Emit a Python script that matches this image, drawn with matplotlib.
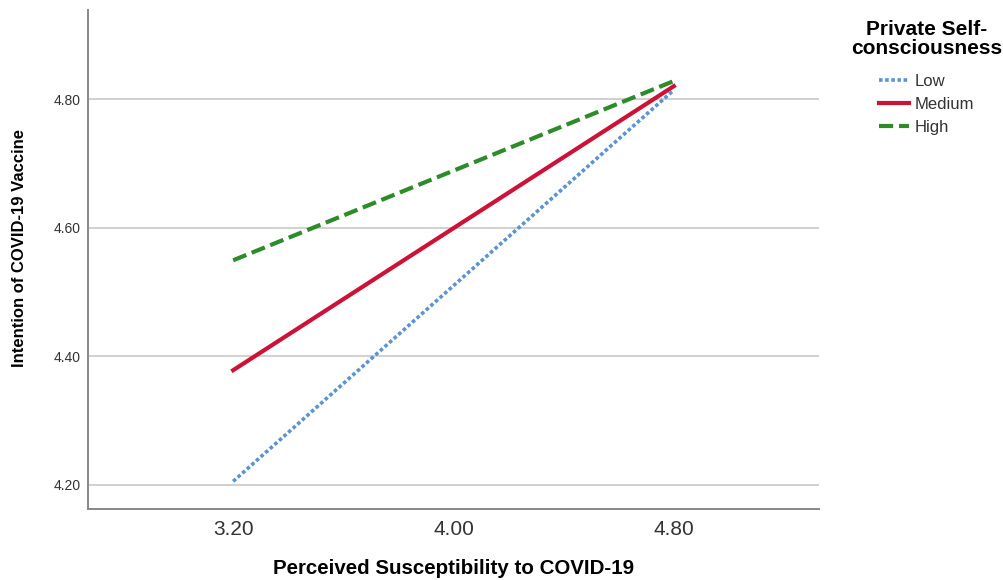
import matplotlib
matplotlib.use("Agg")
import matplotlib.pyplot as plt

plt.rcParams["font.family"] = ["Liberation Sans", "DejaVu Sans"]

susceptibility = [3.20, 4.80]
low = [4.205, 4.814]
medium = [4.378, 4.820]
high = [4.549, 4.828]
x_ticks = [3.20, 4.00, 4.80]
y_ticks = [4.20, 4.40, 4.60, 4.80]

W, H = 1004, 580
fig = plt.figure(figsize=(W / 100, H / 100), dpi=100)
ax = fig.add_axes([88 / W, 1 - 509 / H, 731 / W, 499 / H])

ax.plot(susceptibility, low, color="#5b93d3", lw=2.6, linestyle=(0, (1, 0.7)), label="Low")
ax.plot(susceptibility, medium, color="#cc1236", lw=3.0, label="Medium")
ax.plot(susceptibility, high, color="#2e8b2a", lw=3.0, linestyle=(0, (3.4, 1.4)), label="High")

ax.set_xlim(2.673, 5.327)
ax.set_ylim(4.162, 4.9385)
ax.set_xticks(x_ticks)
ax.set_xticklabels([f"{v:.2f}" for v in x_ticks], fontsize=15, color="#333333")
ax.set_yticks(y_ticks)
ax.set_yticklabels([f"{v:.2f}" for v in y_ticks], fontsize=10, color="#333333")
ax.tick_params(length=0)
ax.tick_params(axis="y", pad=5)
ax.tick_params(axis="x", pad=8)
ax.grid(axis="y", color="#c8c8c8", lw=1.2)
ax.set_axisbelow(True)
for s in ["top", "right"]:
    ax.spines[s].set_visible(False)
for s in ["left", "bottom"]:
    ax.spines[s].set_color("#888888")
    ax.spines[s].set_linewidth(1.4)

ax.set_xlabel("Perceived Susceptibility to COVID-19", fontsize=14.8, fontweight="bold")
ax.xaxis.label.set_va("center")
ax.xaxis.set_label_coords(0.5, (509 - 568) / 499)
ax.set_ylabel("Intention of COVID-19 Vaccine", fontsize=12, fontweight="bold")
ax.yaxis.label.set_va("center")
ax.yaxis.set_label_coords((20 - 88) / 731, (509 - 248) / 499)

leg = fig.legend(*ax.get_legend_handles_labels(), loc="upper left",
                 bbox_to_anchor=(879 / W, 1 - 74 / H), borderaxespad=0, borderpad=0,
                 frameon=False, fontsize=12, handlelength=1.8, handletextpad=0.36,
                 labelspacing=0.48)
for t in leg.get_texts():
    t.set_color("#333333")

fig.text(927 / W, 1 - 39 / H, "Private Self-\nconsciousness", ha="center", va="center",
         multialignment="center", fontsize=15, fontweight="bold", linespacing=1.02)

fig.savefig("out.png", dpi=100)
